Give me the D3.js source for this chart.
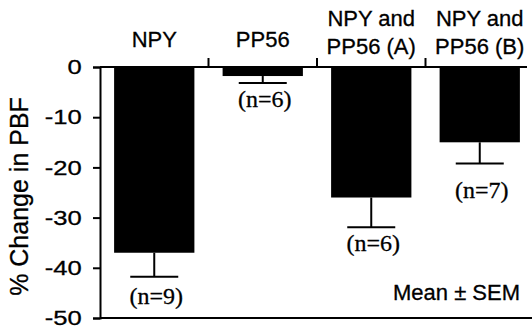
<!DOCTYPE html>
<html>
<head>
<meta charset="utf-8">
<style>
  body { margin: 0; background: #fff; }
  text { fill: #000; }
</style>
</head>
<body>
<script src="https://d3js.org/d3.v7.min.js"></script>
<script>
// data
const groups = ["NPY", "PP56", "NPY and PP56 (A)", "NPY and PP56 (B)"];
const groupLines = [["NPY"], ["PP56"], ["NPY and", "PP56 (A)"], ["NPY and", "PP56 (B)"]];
const means = [-37, -1.8, -26, -15];
const sems = [4.8, 1.4, 5.9, 4.2];
const nLabels = ["(n=9)", "(n=6)", "(n=6)", "(n=7)"];
const yTicks = [0, -10, -20, -30, -40, -50];

const width = 532, height = 331;
const margin = {top: 67, left: 100, bottom: 13};

const svg = d3.select("body").append("svg")
    .attr("width", width)
    .attr("height", height);

const y = d3.scaleLinear()
    .domain([-50, 0])
    .range([height - margin.bottom, margin.top]);

const x = d3.scaleBand()
    .domain(groups)
    .range([margin.left, 534])
    .paddingInner(0.26)
    .paddingOuter(0.13);

const sans = "Liberation Sans, Arial, sans-serif";
const serif = "Liberation Serif, Times New Roman, serif";

// bars
svg.selectAll(".bar")
    .data(groups)
    .enter().append("rect")
    .attr("class", "bar")
    .attr("x", d => x(d))
    .attr("width", x.bandwidth())
    .attr("y", y(0))
    .attr("height", (d, i) => y(means[i]) - y(0))
    .attr("fill", "#000");

// error bars (downward only)
const err = svg.append("g").attr("stroke", "#000").attr("stroke-width", 2);
groups.forEach((g, i) => {
    const cx = x(g) + x.bandwidth() / 2;
    err.append("line")
        .attr("x1", cx).attr("x2", cx)
        .attr("y1", y(means[i])).attr("y2", y(means[i] - sems[i]));
    err.append("line")
        .attr("x1", cx - 24).attr("x2", cx + 24)
        .attr("y1", y(means[i] - sems[i])).attr("y2", y(means[i] - sems[i]));
});

// y axis, hyphen minus like the original
const yAxis = svg.append("g")
    .attr("transform", "translate(" + margin.left + ",0)")
    .call(d3.axisLeft(y).tickValues(yTicks).tickSize(7).tickPadding(8).tickFormat(d => String(d)));
yAxis.select(".domain").attr("stroke-width", 2);
yAxis.selectAll(".tick line").attr("stroke-width", 2);
yAxis.selectAll("text")
    .attr("font-family", sans)
    .attr("font-size", 21)
    .attr("fill", "#000")
    .attr("stroke", "#000").attr("stroke-width", 0.3)
    .attr("transform", "scale(1.22,1)");

// zero line with upward ticks at group boundaries
svg.append("line")
    .attr("x1", margin.left).attr("x2", 527)
    .attr("y1", y(0)).attr("y2", y(0))
    .attr("stroke", "#000").attr("stroke-width", 2);
d3.range(1, groups.length).forEach(i => {
    const bx = x.range()[0] + i * x.step();
    svg.append("line")
        .attr("x1", bx).attr("x2", bx)
        .attr("y1", y(0)).attr("y2", y(0) - 9)
        .attr("stroke", "#000").attr("stroke-width", 2);
});

// bottom line at -50
svg.append("line")
    .attr("x1", margin.left).attr("x2", width)
    .attr("y1", y(-50)).attr("y2", y(-50))
    .attr("stroke", "#000").attr("stroke-width", 2);

// group labels
groupLines.forEach((lines, i) => {
    const cx = x(groups[i]) + x.bandwidth() / 2;
    const t = svg.append("text")
        .attr("text-anchor", "middle")
        .attr("font-family", sans)
        .attr("font-size", 22)
        .attr("stroke", "#000").attr("stroke-width", 0.3);
    if (lines.length === 1) {
        t.append("tspan").attr("x", cx).attr("y", 47).text(lines[0]);
    } else {
        t.append("tspan").attr("x", cx).attr("y", 26).text(lines[0]);
        t.append("tspan").attr("x", cx).attr("y", 54).text(lines[1]);
    }
});

// n labels below error bars
const nOffset = [27, 24, 24, 35];
svg.selectAll(".nlab")
    .data(nLabels)
    .enter().append("text")
    .attr("class", "nlab")
    .attr("x", (d, i) => x(groups[i]) + x.bandwidth() / 2 + 2)
    .attr("y", (d, i) => y(means[i] - sems[i]) + nOffset[i])
    .attr("text-anchor", "middle")
    .attr("font-family", serif)
    .attr("font-size", 24)
    .attr("stroke", "#000").attr("stroke-width", 0.3)
    .text(d => d);

// y axis title
svg.append("text")
    .attr("transform", "translate(28," + (y(-25) + 4) + ") rotate(-90)")
    .attr("text-anchor", "middle")
    .attr("font-family", sans)
    .attr("font-size", 25)
    .attr("stroke", "#000").attr("stroke-width", 0.3)
    .text("% Change in PBF");

// note
svg.append("text")
    .attr("x", 520)
    .attr("y", 300)
    .attr("text-anchor", "end")
    .attr("font-family", sans)
    .attr("font-size", 22)
    .attr("stroke", "#000").attr("stroke-width", 0.3)
    .text("Mean \u00b1 SEM");
</script>
</body>
</html>
